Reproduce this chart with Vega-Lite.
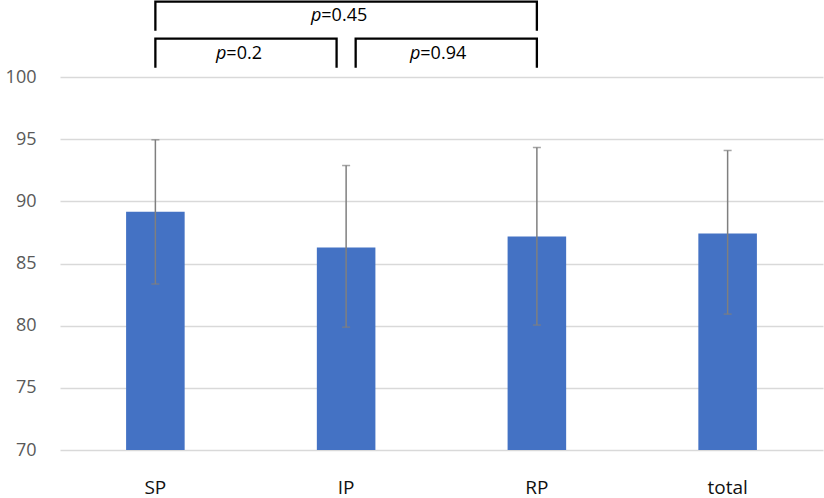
{
  "$schema": "https://vega.github.io/schema/vega-lite/v6.json",
  "autosize": {"type": "none"},
  "width": 763,
  "height": 373,
  "padding": {"left": 60, "top": 77, "right": 1, "bottom": 48},
  "background": "white",
  "config": {
    "view": {"stroke": null},
    "font": "Open Sans"
  },
  "datasets": {
    "groups": [
      {"group": "SP", "mean": 89.16, "lo": 83.35, "hi": 94.95},
      {"group": "IP", "mean": 86.28, "lo": 79.88, "hi": 92.88},
      {"group": "RP", "mean": 87.17, "lo": 80.05, "hi": 94.33},
      {"group": "total", "mean": 87.41, "lo": 80.93, "hi": 94.09}
    ],
    "brackets": [
      {"bracket": "SP-RP", "seq": 1, "pos": 1, "y": 103.81},
      {"bracket": "SP-RP", "seq": 2, "pos": 1, "y": 106.06},
      {"bracket": "SP-RP", "seq": 3, "pos": 3, "y": 106.06},
      {"bracket": "SP-RP", "seq": 4, "pos": 3, "y": 103.81},
      {"bracket": "SP-IP", "seq": 1, "pos": 1, "y": 100.83},
      {"bracket": "SP-IP", "seq": 2, "pos": 1, "y": 103.08},
      {"bracket": "SP-IP", "seq": 3, "pos": 1.95, "y": 103.08},
      {"bracket": "SP-IP", "seq": 4, "pos": 1.95, "y": 100.83},
      {"bracket": "IP-RP", "seq": 1, "pos": 2.05, "y": 100.83},
      {"bracket": "IP-RP", "seq": 2, "pos": 2.05, "y": 103.08},
      {"bracket": "IP-RP", "seq": 3, "pos": 3, "y": 103.08},
      {"bracket": "IP-RP", "seq": 4, "pos": 3, "y": 100.83}
    ],
    "pvalues": [
      {"bracket": "SP-RP", "pos": 1.87, "y": 104.48, "label": "=0.45"},
      {"bracket": "SP-IP", "pos": 1.372, "y": 101.45, "label": "=0.2"},
      {"bracket": "IP-RP", "pos": 2.389, "y": 101.45, "label": "=0.94"}
    ]
  },
  "layer": [
    {
      "data": {"name": "groups"},
      "layer": [
        {
          "mark": {"type": "bar", "color": "#4472C4", "width": {"band": 0.307}},
          "encoding": {
            "x": {
              "field": "group",
              "type": "nominal",
              "sort": null,
              "title": null,
              "scale": {"paddingInner": 0, "paddingOuter": 0},
              "axis": {
                "labelAngle": 0,
                "labelFontSize": 19,
                "labelColor": "#111111",
                "labelPadding": 28,
                "ticks": false,
                "domain": false
              }
            },
            "y": {
              "field": "mean",
              "type": "quantitative",
              "title": null,
              "scale": {"domain": [70, 100], "nice": false, "zero": false},
              "axis": {
                "values": [70, 75, 80, 85, 90, 95, 100],
                "labelFontSize": 18,
                "labelColor": "#595959",
                "labelPadding": 24,
                "ticks": false,
                "domain": false,
                "gridColor": "#d9d9d9",
                "gridWidth": 1.5
              }
            },
            "y2": {"datum": 70}
          }
        },
        {
          "mark": {"type": "rule", "color": "#7f7f7f", "strokeWidth": 1.5},
          "encoding": {
            "x": {"field": "group", "type": "nominal", "sort": null},
            "y": {"field": "lo", "type": "quantitative", "scale": {"domain": [70, 100], "nice": false, "zero": false}},
            "y2": {"field": "hi"}
          }
        },
        {
          "mark": {"type": "tick", "color": "#7f7f7f", "thickness": 1.5, "size": 8, "orient": "horizontal"},
          "encoding": {
            "x": {"field": "group", "type": "nominal", "sort": null},
            "y": {"field": "hi", "type": "quantitative", "scale": {"domain": [70, 100], "nice": false, "zero": false}}
          }
        },
        {
          "mark": {"type": "tick", "color": "#7f7f7f", "thickness": 1.5, "size": 8, "orient": "horizontal"},
          "encoding": {
            "x": {"field": "group", "type": "nominal", "sort": null},
            "y": {"field": "lo", "type": "quantitative", "scale": {"domain": [70, 100], "nice": false, "zero": false}}
          }
        }
      ]
    },
    {
      "layer": [
        {
          "data": {"name": "brackets"},
          "mark": {"type": "line", "color": "#000000", "strokeWidth": 2.3, "strokeJoin": "miter", "strokeCap": "square"},
          "encoding": {
            "x": {"field": "pos", "type": "quantitative", "scale": {"domain": [0.5, 4.5], "nice": false, "zero": false}, "axis": null},
            "y": {"field": "y", "type": "quantitative", "scale": {"domain": [70, 100], "nice": false, "zero": false}},
            "detail": {"field": "bracket"},
            "order": {"field": "seq"}
          }
        },
        {
          "data": {"name": "pvalues"},
          "mark": {"type": "text", "text": "p", "fontStyle": "italic", "fontSize": 18, "align": "right", "baseline": "alphabetic", "color": "#000000"},
          "encoding": {
            "x": {"field": "pos", "type": "quantitative", "scale": {"domain": [0.5, 4.5], "nice": false, "zero": false}, "axis": null},
            "y": {"field": "y", "type": "quantitative", "scale": {"domain": [70, 100], "nice": false, "zero": false}}
          }
        },
        {
          "data": {"name": "pvalues"},
          "mark": {"type": "text", "fontSize": 18, "align": "left", "baseline": "alphabetic", "color": "#000000"},
          "encoding": {
            "x": {"field": "pos", "type": "quantitative", "scale": {"domain": [0.5, 4.5], "nice": false, "zero": false}, "axis": null},
            "y": {"field": "y", "type": "quantitative", "scale": {"domain": [70, 100], "nice": false, "zero": false}},
            "text": {"field": "label"}
          }
        }
      ]
    }
  ],
  "resolve": {"scale": {"x": "independent"}, "axis": {"x": "independent"}}
}
